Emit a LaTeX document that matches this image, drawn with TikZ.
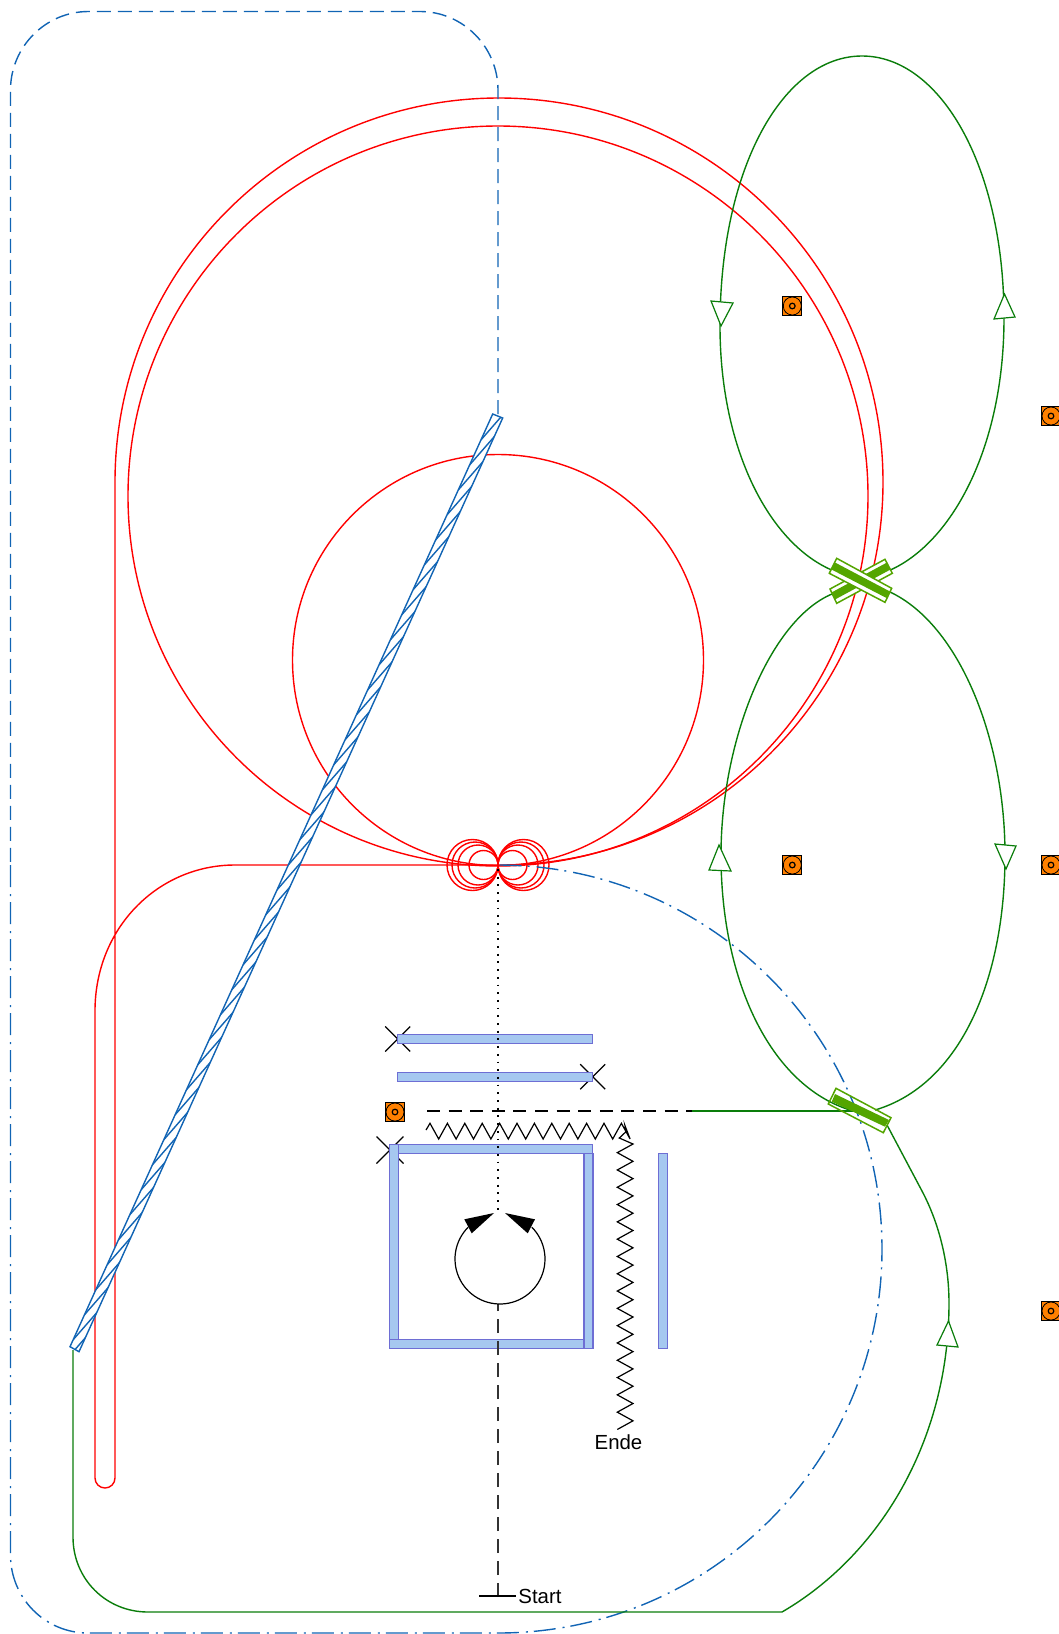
\documentclass[tikz,border=0pt]{standalone}
\usepackage{fontspec}
\setmainfont{Liberation Sans}
\definecolor{trackred}{RGB}{255,0,0}
\definecolor{trackblue}{RGB}{17,100,180}
\definecolor{trackgreen}{RGB}{10,125,10}
\definecolor{gatelime}{RGB}{84,165,0}
\definecolor{barfill}{RGB}{166,200,240}
\definecolor{barline}{RGB}{110,110,212}
\definecolor{signalorange}{RGB}{255,128,0}
\tikzset{
  redline/.style={draw=trackred,line width=0.7pt},
  greenline/.style={draw=trackgreen,line width=0.7pt},
  blueline/.style={draw=trackblue,line width=0.7pt},
  bluedash/.style={blueline,dash pattern=on 7pt off 3.5pt},
  bluedashdot/.style={blueline,dash pattern=on 11pt off 3.5pt on 1pt off 3pt},
  blackdash/.style={draw=black,line width=0.6pt,dash pattern=on 6.5pt off 4.3pt},
  greydash/.style={draw=black!80,line width=0.55pt,dash pattern=on 7pt off 4pt},
  blackdot/.style={draw=black,line width=0.8pt,dash pattern=on 0.9pt off 2.95pt},
  thinblack/.style={draw=black,line width=0.6pt},
  bar/.style={fill=barfill,draw=barline,line width=0.6pt},
  opentri/.style={fill=white,draw=trackgreen,line width=0.6pt,line join=miter},
  gatebox/.style={draw=gatelime,line width=0.75pt},
  gatestripe/.style={fill=gatelime},
  txt/.style={font=\fontsize{10.2pt}{12pt}\selectfont,inner sep=0pt,text=black}
}
\newcommand{\signalat}[2]{%
  \fill[signalorange,draw=black,line width=0.5pt] (#1-9.5,#2-9.5) rectangle (#1+9.5,#2+9.5);
  \draw[black,line width=0.45pt] (#1,#2) circle[radius=9];
  \fill[signalorange] (#1,#2) circle[radius=8.3];
  \draw[black,line width=0.6pt] (#1,#2) circle[radius=2.8];
}
\newcommand{\crossat}[3]{%
  \draw[thinblack] (#1-#3,#2-#3) -- (#1+#3,#2+#3) (#1-#3,#2+#3) -- (#1+#3,#2-#3);
}
\begin{document}
\begin{tikzpicture}[x=0.5pt,y=-0.5pt]
\useasboundingbox (0,0) rectangle (1059,1634);
% red track
\draw[redline] (498,660) circle[radius=205.5];
\draw[redline] (498,496) circle[radius=370];
\foreach \r in {14.5,20,23,25.5}{
  \draw[redline] (498-\r,865) circle[radius=\r];
  \draw[redline] (498+\r,865) circle[radius=\r];
}
\draw[redline] (498,865) -- (235,865) .. controls (158,865) and (95,928) .. (95,1011) -- (95,1478)
  .. controls (95,1483.5) and (99.5,1488) .. (105,1488) .. controls (110.5,1488) and (115,1483.5) .. (115,1478)
  -- (115,482) .. controls (115,270) and (287,98) .. (499,98) .. controls (711,98) and (883,270) .. (883,482)
  .. controls (883,694) and (711,866) .. (498,865);
% blue tracks
\draw[bluedash] (498,414) -- (498,90) .. controls (498,47) and (463,11.5) .. (420,11.5) -- (88.5,11.5)
  .. controls (45.5,11.5) and (10.5,47) .. (10.5,90) -- (10.5,865);
\draw[bluedashdot] (10.5,865) -- (10.5,1555) .. controls (10.5,1598) and (45,1633) .. (88,1633) -- (498,1633)
  .. controls (710,1633) and (882,1461) .. (882,1249) .. controls (882,1037) and (710,865) .. (498,865);
% green track
\draw[greenline] (888,571) .. controls (950,545) and (1004,450) .. (1004,318)
  .. controls (1004,166) and (940,56) .. (862,56) .. controls (784,56) and (720,166) .. (720,326)
  .. controls (720,450) and (770,545) .. (834,571);
\draw[greenline] (890,592) .. controls (960,625) and (1005,740) .. (1005,855)
  .. controls (1005,980) and (960,1085) .. (875,1110);
\draw[greenline] (832,594) .. controls (770,620) and (721,740) .. (721,855)
  .. controls (721,980) and (770,1085) .. (850,1110);
\draw[greenline] (692,1111) -- (860,1111);
\draw[greenline] (887,1125) -- (922,1191) .. controls (940,1225) and (949,1265) .. (949,1303)
  .. controls (949,1440) and (880,1555) .. (782,1612) -- (148,1612)
  .. controls (106,1612) and (73,1579) .. (73,1537) -- (73,1350);
% open arrowheads
\draw[opentri] (1004.5,294) -- (994,319) -- (1015,317) -- cycle;
\draw[opentri] (721,326) -- (711,301) -- (733,303) -- cycle;
\draw[opentri] (1006,869) -- (995,844) -- (1016,846) -- cycle;
\draw[opentri] (719,845) -- (709,870) -- (731,871) -- cycle;
\draw[opentri] (948.5,1321) -- (937,1345) -- (958,1347) -- cycle;
% hatched band
\fill[white] (70,1346.7) -- (492.7,414) -- (502.7,418) -- (79,1351.7) -- cycle;
\begin{scope}
  \clip (70,1346.7) -- (492.7,414) -- (502.7,418) -- (79,1351.7) -- cycle;
  \foreach \i in {-17,...,22}{
    \pgfmathsetmacro{\ya}{815+25*\i}
    \pgfmathsetmacro{\xa}{310.9-25*\i*0.4533}
    \draw[blueline] (\xa,\ya) -- ++(27,-31);
  }
\end{scope}
\draw[blueline,line join=miter] (70,1346.7) -- (492.7,414) -- (502.7,418) -- (79,1351.7) -- cycle;
% upper gate
\draw[gatebox,fill=white] (885,559.3) -- (892.3,573.3) -- (836.7,603.3) -- (830,589) -- cycle;
\fill[gatestripe] (887,562.5) -- (890.5,569.5) -- (835,599.5) -- (831.5,592.5) -- cycle;
\draw[gatebox,fill=white] (836.7,558.3) -- (891.7,588.3) -- (885,602.3) -- (829.3,573.3) -- cycle;
\fill[gatestripe] (835,562.5) -- (890,591.5) -- (886.5,598) -- (831.5,569.5) -- cycle;
% lower gate
\draw[gatebox] (836,1088.3) -- (891,1117.7) -- (883.3,1132.7) -- (828.3,1104) -- cycle;
\fill[gatestripe] (835,1094) -- (889,1120) -- (885,1126.7) -- (831.7,1101.7) -- cycle;
% crosses
\crossat{397.7}{1039}{12.5}
\crossat{592.7}{1076.7}{12.5}
\crossat{390}{1150}{13.5}
% bars
\draw[bar] (397.7,1034.3) rectangle (592.7,1043.7);
\draw[bar] (397.7,1072.3) rectangle (592.7,1081.3);
\draw[bar] (397.7,1144.3) rectangle (592.7,1153.7);
\draw[bar] (389.3,1144.3) rectangle (398.3,1339.3);
\draw[bar] (584,1153.7) rectangle (593,1348.3);
\draw[bar] (389.3,1339.3) rectangle (584,1348.3);
\draw[bar] (658.7,1153.7) rectangle (667.7,1348.3);
% signals
\signalat{792.3}{306}
\signalat{1051}{416}
\signalat{792.3}{865}
\signalat{1051}{865}
\signalat{1051}{1311}
\signalat{395}{1112}
% black lines
\draw[blackdot] (498,869) -- (498,1214);
\draw[blackdash] (427,1111) -- (692,1111);
\draw[greydash] (498,1597) -- (498,1304);
\draw[thinblack] (479,1596) -- (516,1596);
\draw[thinblack,line join=miter] (426,1130) -- (430,1123.3)
  \foreach \k in {0,...,10}{ -- ++(8.7,15.7) -- ++(8.7,-15.7)}
  -- ++(8.7,15.7) -- (625,1125.7) -- (626,1131.7) -- (619.3,1138) -- (633,1144)
  \foreach \k in {0,...,15}{ -- ++(-15.7,8.65) -- ++(15.7,8.65)}
  -- ++(-15.7,8.65);
\draw[thinblack] plot[domain=225:-45,samples=60] ({500+45*cos(\x)},{1259+45*sin(\x)});
\fill[black] (494,1213) -- (464.3,1219.3) -- (471.7,1233.3) -- cycle;
\fill[black] (505,1213) -- (535,1219.3) -- (527.7,1233.3) -- cycle;
\node[txt,anchor=west] (startlabel) at (518,1596) {Start};
\node[txt] (endlabel) at (618.5,1442) {Ende};
\end{tikzpicture}
\end{document}
